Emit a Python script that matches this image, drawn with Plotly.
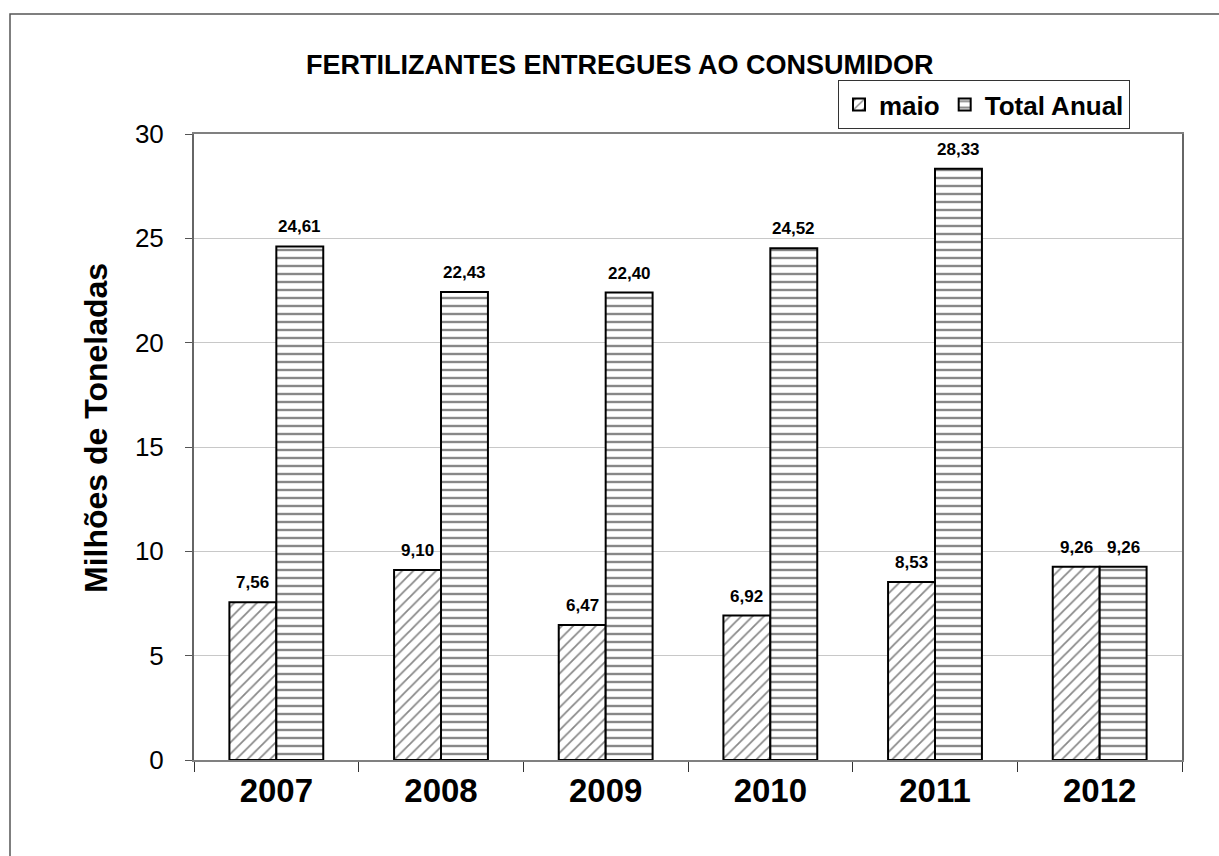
import plotly.graph_objects as go

years = ["2007", "2008", "2009", "2010", "2011", "2012"]
maio = [7.56, 9.10, 6.47, 6.92, 8.53, 9.26]
total_anual = [24.61, 22.43, 22.40, 24.52, 28.33, 9.26]
y_ticks = [0, 5, 10, 15, 20, 25, 30]

FONT = "Liberation Sans, Arial, sans-serif"
W, H = 1219, 856
L, R, T, B = 194, 37, 134, 96
pw, ph = W - L - R, H - T - B
BARGAP = 0.43
bar_w = pw / len(years) * (1 - BARGAP) / 2

def px_x(x):
    return (x - L) / pw

def px_y(y):
    return (H - B - y) / ph

fig = go.Figure()
fig.add_trace(go.Bar(
    name="maio", x=years, y=maio,
    marker=dict(color="white", line=dict(color="black", width=2),
                pattern=dict(shape="/", fgcolor="#111111", bgcolor="white", size=8, solidity=0.22)),
))
fig.add_trace(go.Bar(
    name="Total Anual", x=years, y=total_anual,
    marker=dict(color="white", line=dict(color="black", width=2),
                pattern=dict(shape="-", fgcolor="#111111", bgcolor="white", size=8, solidity=0.3)),
))

label_font = dict(family=FONT, size=17, color="black", weight="bold")
for i, v in enumerate(maio):
    fig.add_annotation(x=i, y=v, text=f"{v:.2f}".replace(".", ","), showarrow=False,
                       xshift=-bar_w / 2, yshift=8, yanchor="bottom", xanchor="center",
                       font=label_font)
for i, v in enumerate(total_anual):
    fig.add_annotation(x=i, y=v, text=f"{v:.2f}".replace(".", ","), showarrow=False,
                       xshift=bar_w / 2, yshift=8, yanchor="bottom", xanchor="center",
                       font=label_font)

fig.update_layout(
    width=W, height=H,
    margin=dict(l=L, r=R, t=T, b=B, autoexpand=False),
    paper_bgcolor="white", plot_bgcolor="white",
    separators=",.",
    barmode="group", bargap=BARGAP, bargroupgap=0,
    font=dict(family=FONT, color="black"),
    showlegend=True,
    legend=dict(
        orientation="h", x=px_x(838), y=px_y(80), xanchor="left", yanchor="top",
        bordercolor="#333333", borderwidth=1, bgcolor="white",
        font=dict(family=FONT, size=26, color="black", weight="bold"),
        itemwidth=30, traceorder="normal",
    ),
    xaxis=dict(
        type="category", categoryorder="array", categoryarray=years,
        range=[-0.5, len(years) - 0.5],
        tickson="boundaries", ticks="outside", ticklen=10,
        tickcolor="#333333", tickwidth=1,
        showline=True, linecolor="#808080", linewidth=2, mirror=True,
        tickfont=dict(family=FONT, size=33, color="black", weight="bold"),
        showgrid=False,
    ),
    yaxis=dict(
        range=[0, 30], tickvals=y_ticks, ticks="outside", ticklen=7,
        tickcolor="#555555", tickwidth=1,
        showline=True, linecolor="#666666", linewidth=2, mirror=True,
        showgrid=True, gridcolor="#c8c8c8", gridwidth=1,
        tickfont=dict(family=FONT, size=26, color="black"),
        ticklabelstandoff=16, zeroline=False,
    ),
)

fig.add_annotation(
    text="FERTILIZANTES ENTREGUES AO CONSUMIDOR", xref="paper", yref="paper",
    x=px_x(620), y=px_y(65), xanchor="center", yanchor="middle", showarrow=False,
    font=dict(family=FONT, size=27, color="black", weight="bold"),
)
fig.add_annotation(
    text="Milhões de Toneladas", xref="paper", yref="paper",
    x=px_x(96), y=px_y(428), xanchor="center", yanchor="middle", showarrow=False,
    textangle=-90,
    font=dict(family=FONT, size=32, color="black", weight="bold"),
)
# outer chart border
fig.add_shape(type="rect", xref="paper", yref="paper",
              x0=px_x(10), y0=px_y(900), x1=px_x(1260), y1=px_y(14),
              line=dict(color="#555555", width=1.5), fillcolor="rgba(0,0,0,0)", layer="below")

fig.write_html("out.html", config={"displayModeBar": False},
               post_script="document.body.style.margin='0';document.body.style.overflow='hidden';")
